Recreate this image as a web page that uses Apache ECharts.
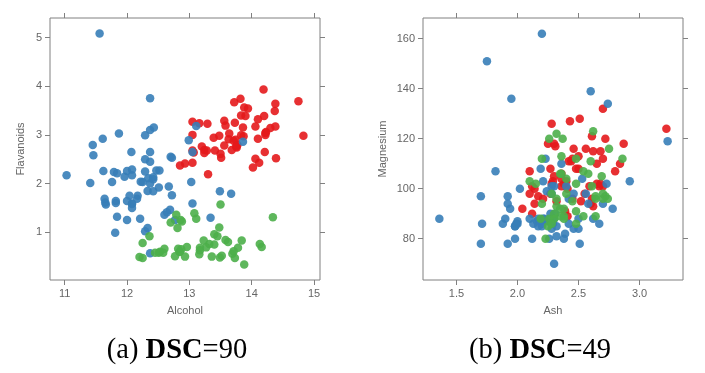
<!DOCTYPE html>
<html>
<head>
<meta charset="utf-8">
<script src="https://cdn.jsdelivr.net/npm/echarts@6/dist/echarts.min.js"></script>
<style>html,body{margin:0;padding:0;background:#fff}#c{width:705px;height:373px}</style>
</head>
<body>
<div id="c"></div>
<script>
// Class 1 (red)
var alcohol1 = [14.23,13.2,13.16,14.37,13.24,14.2,14.39,14.06,14.83,13.86,14.1,14.12,13.75,14.75,14.38,13.63,14.3,13.83,14.19,13.64,14.06,12.93,13.71,12.85,13.5,13.05,13.39,13.3,13.87,14.02,13.73,13.58,13.68,13.76,13.51,13.48,13.28,13.05,13.07,14.22,13.56,13.41,13.88,13.24,13.05,14.21,14.38,13.9,14.1,13.94,13.05,13.83,13.82,13.77,13.74,13.56,14.22,13.29,13.72];
var flav1 = [3.06,2.76,3.24,3.49,2.69,3.39,2.52,2.51,2.98,3.15,3.32,2.43,2.76,3.69,3.64,2.91,3.14,3.4,3.93,3.03,3.17,2.41,2.88,2.37,2.61,2.68,2.94,2.19,2.97,2.33,3.25,3.19,2.69,2.74,2.53,2.98,2.68,2.43,2.64,3.04,3.29,2.68,3.56,2.63,3,2.65,3.17,3.39,2.92,3.54,3.27,2.99,3.74,2.79,2.9,2.78,3,3.23,3.67];
var ash1 = [2.43,2.14,2.67,2.5,2.87,2.45,2.45,2.61,2.17,2.27,2.3,2.32,2.41,2.39,2.38,2.7,2.72,2.62,2.48,2.56,2.28,2.65,2.36,2.52,2.61,3.22,2.62,2.14,2.8,2.21,2.7,2.36,2.36,2.7,2.65,2.41,2.84,2.55,2.1,2.51,2.31,2.12,2.59,2.29,2.1,2.44,2.28,2.12,2.4,2.27,2.04,2.6,2.42,2.68,2.25,2.46,2.3,2.68,2.5];
var mg1 = [127,100,101,113,118,112,96,121,97,98,105,95,89,91,102,112,120,115,108,116,126,102,101,95,96,124,93,94,107,96,101,106,104,132,110,100,110,98,98,128,117,90,101,103,107,111,102,101,103,108,92,94,111,115,118,116,118,102,108];
// Class 2 (blue)
var alcohol2 = [12.37,12.33,12.64,13.67,12.37,12.17,12.37,13.11,12.37,13.34,12.21,12.29,13.86,13.49,12.99,11.96,11.66,13.03,11.84,12.33,12.7,12,12.72,12.08,13.05,11.84,12.67,12.16,11.65,11.64,12.08,12.08,12,12.69,12.29,11.62,12.47,11.81,12.29,12.37,12.29,12.08,12.6,12.34,11.82,12.51,12.42,12.25,12.72,12.22,11.61,11.46,12.52,11.76,11.41,12.08,11.03,11.82,12.42,12.77,12,11.45,11.56,12.42,13.05,11.87,12.07,12.43,11.79,12.37,12.04];
var flav2 = [0.57,1.09,1.41,1.79,3.1,1.75,2.65,3.18,2,1.3,1.28,1.02,2.86,1.84,2.89,2.14,1.57,2.03,1.32,1.85,2.55,2.26,2.53,1.58,1.59,2.21,1.94,1.69,1.61,1.69,1.59,1.5,1.25,1.46,2.25,2.26,2.27,0.99,2.5,3.75,2.99,2.17,1.36,2.11,1.64,1.92,1.84,2.03,1.76,2.04,2.92,2.58,2.27,2.03,2.01,2.29,2.17,1.6,2.09,1.25,1.64,2.79,5.08,2.13,2.65,3.03,2.65,3.15,2.24,2.45,1.75];
var ash2 = [1.36,2.28,2.02,1.92,2.16,2.53,2.56,1.7,1.92,2.36,1.75,2.21,2.67,2.24,2.6,2.3,1.92,1.71,2.23,1.95,2.4,2,2.2,2.51,2.32,2.58,2.24,2.31,2.62,2.46,2.3,2.32,2.42,2.26,2.22,2.28,2.2,2.74,1.98,2.1,2.21,1.7,1.9,2.46,1.88,1.98,2.27,2.12,2.28,1.94,2.7,1.82,2.17,2.92,2.5,2.5,2.2,1.99,2.19,1.98,2,2.42,3.23,2.73,2.13,2.39,2.17,2.29,2.78,2.3,2.38];
var mg2 = [88,101,100,94,87,104,98,78,78,110,151,103,86,87,139,101,97,86,112,136,101,86,86,78,85,94,99,90,88,84,70,81,86,80,88,98,162,134,85,88,88,97,88,98,86,85,90,80,84,92,94,107,88,103,88,84,85,86,108,80,87,96,119,102,86,82,85,86,92,88,80];
// Class 3 (green)
var alcohol3 = [12.86,12.88,12.81,12.7,12.51,12.6,12.25,12.53,13.49,12.84,12.93,13.36,13.52,13.62,12.25,13.16,13.88,12.87,13.32,13.08,13.5,12.79,13.11,13.23,12.58,13.17,13.84,12.45,14.34,13.48,12.36,13.69,12.85,12.96,13.78,13.73,13.45,12.82,13.58,13.4,12.2,12.77,14.16,13.71,13.4,13.27,13.17,14.13];
var flav3 = [1.25,1.22,1.09,1.2,0.58,0.66,0.47,0.6,0.48,0.6,0.5,0.5,0.52,0.8,0.78,0.55,0.34,0.65,0.76,1.39,1.57,1.36,1.28,0.83,0.58,0.63,0.83,0.58,1.31,1.1,0.92,0.56,0.6,0.7,0.68,0.47,0.92,0.66,0.84,0.96,0.49,0.51,0.7,0.61,0.75,0.69,0.68,0.76];
var ash3 = [2.32,2.4,2.4,2.36,2.25,2.2,2.54,2.64,2.19,2.61,2.7,2.35,2.72,2.35,2.2,2.15,2.23,2.48,2.38,2.36,2.62,2.48,2.75,2.28,2.1,2.32,2.38,2.64,2.7,2.64,2.38,2.54,2.58,2.35,2.3,2.26,2.6,2.3,2.69,2.86,2.32,2.28,2.48,2.45,2.48,2.26,2.37,2.74];
var mg3 = [122,104,98,106,85,94,89,96,88,101,96,89,97,92,112,102,80,86,92,113,123,112,116,98,103,93,89,97,98,89,88,107,106,106,90,88,111,88,105,112,96,86,91,95,102,120,120,96];

var alcoholTicks = [11,12,13,14,15];
var flavTicks = [1,2,3,4,5];
var ashTicks = [1.5,2.0,2.5,3.0];
var mgTicks = [80,100,120,140,160];
var captionA = '(a) {b|DSC}=90';
var captionB = '(b) {b|DSC}=49';

function zip(a,b){ return a.map(function(v,i){ return [v,b[i]]; }); }

var FRAME = '#808080', LBL = '#666';
var sans = 'Liberation Sans';

function axisX(grid, min, max, ticks, pos, name, fmt){
  return {
    gridIndex: grid, type: 'value', position: pos, min: min, max: max,
    name: name || '', nameLocation: 'middle', nameGap: 25,
    nameTextStyle: {color: LBL, fontSize: 11, fontFamily: sans},
    axisLine: {show: false}, splitLine: {show: false},
    axisTick: {show: true, inside: false, length: 5, customValues: ticks, lineStyle: {color: FRAME}},
    axisLabel: {show: pos === 'bottom', customValues: ticks, margin: 8, color: LBL, fontSize: 11, fontFamily: sans,
      formatter: fmt || function(v){ return String(v); }}
  };
}
function axisY(grid, min, max, ticks, pos, name, gap){
  return {
    gridIndex: grid, type: 'value', position: pos, min: min, max: max,
    name: name || '', nameLocation: 'middle', nameGap: gap || 24,
    nameTextStyle: {color: LBL, fontSize: 11, fontFamily: sans},
    axisLine: {show: false}, splitLine: {show: false},
    axisTick: {show: true, inside: false, length: 5, customValues: ticks, lineStyle: {color: FRAME}},
    axisLabel: {show: pos === 'left', customValues: ticks, margin: 8, color: LBL, fontSize: 11, fontFamily: sans}
  };
}

var RED = '#e41a1c', BLUE = '#377eb8', GREEN = '#4daf4a';
function sc(xi, yi, data, color){
  return {type: 'scatter', xAxisIndex: xi, yAxisIndex: yi, data: data, symbolSize: 8.5,
    itemStyle: {color: color, opacity: 0.9}, silent: true, animation: false};
}

function caption(x, text){
  return {type: 'text', x: x, y: 351, silent: true,
    style: {text: text, fill: '#000', font: '28.5px "Liberation Serif"', fontFamily: 'Liberation Serif', fontSize: 28.5,
      align: 'center', verticalAlign: 'middle', textAlign: 'center', textVerticalAlign: 'middle',
      rich: {b: {fontWeight: 'bold', fontFamily: 'Liberation Serif', fontSize: 28.5, fill: '#000'}}}};
}

var chart = echarts.init(document.getElementById('c'), null, {renderer: 'canvas'});
chart.setOption({
  animation: false,
  grid: [
    {left: 50, top: 18, width: 270, height: 262, show: true, borderColor: FRAME, borderWidth: 1, backgroundColor: 'transparent'},
    {left: 423, top: 18, width: 260, height: 262, show: true, borderColor: FRAME, borderWidth: 1, backgroundColor: 'transparent'}
  ],
  xAxis: [
    axisX(0, 10.764, 15.096, alcoholTicks, 'bottom', 'Alcohol'),
    axisX(0, 10.764, 15.096, alcoholTicks, 'top'),
    axisX(1, 1.226, 3.356, ashTicks, 'bottom', 'Ash', function(v){ return v.toFixed(1); }),
    axisX(1, 1.226, 3.356, ashTicks, 'top')
  ],
  yAxis: [
    axisY(0, 0.02, 5.4, flavTicks, 'left', 'Flavanoids', 24),
    axisY(0, 0.02, 5.4, flavTicks, 'right'),
    axisY(1, 63.45, 168.3, mgTicks, 'left', 'Magnesium', 35),
    axisY(1, 63.45, 168.3, mgTicks, 'right')
  ],
  series: [
    sc(0, 0, zip(alcohol1, flav1), RED),
    sc(0, 0, zip(alcohol2, flav2), BLUE),
    sc(0, 0, zip(alcohol3, flav3), GREEN),
    sc(2, 2, zip(ash1, mg1), RED),
    sc(2, 2, zip(ash2, mg2), BLUE),
    sc(2, 2, zip(ash3, mg3), GREEN)
  ],
  graphic: [caption(177, captionA), caption(540, captionB)]
});
</script>
</body>
</html>
